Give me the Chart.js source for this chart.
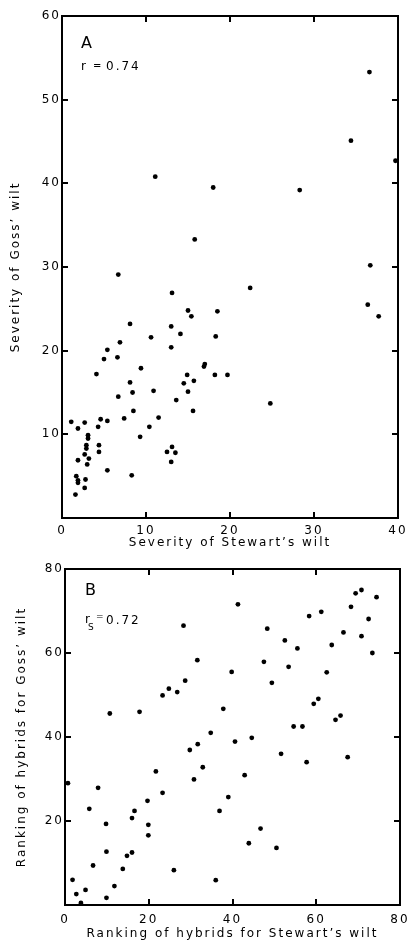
<!DOCTYPE html>
<html>
<head>
<meta charset="utf-8">
<script src="https://cdn.jsdelivr.net/npm/chart.js@4.4.1/dist/chart.umd.min.js"></script>
<style>
  html, body { margin: 0; padding: 0; background: #fff; }
  body { width: 410px; height: 952px; position: relative; overflow: hidden; }
  .panel { position: absolute; left: 0; }
</style>
</head>
<body>
<div class="panel" style="top:0"><canvas id="chartA" width="410" height="556"></canvas></div>
<div class="panel" style="top:550px"><canvas id="chartB" width="410" height="402"></canvas></div>
<script>
// Panel A: disease severity
const stewartSeverity = [11.1, 15.8, 18.0, 28.3, 34.4, 36.6, 39.7, 36.7, 6.7, 13.1,
    22.4, 36.4, 37.7, 15.0, 15.4, 18.5, 8.1, 13.0, 14.1, 10.6,
    18.3, 6.9, 5.4, 13.0, 5.0, 6.6, 4.1, 9.4, 17.0, 16.9,
    18.2, 19.7, 14.9, 8.1, 14.5, 15.7, 6.7, 8.4, 10.9, 15.0,
    13.6, 24.8, 8.5, 15.6, 11.5, 7.4, 4.6, 5.4, 1.1, 2.7,
    4.3, 1.9, 10.4, 3.1, 3.1, 9.3, 2.9, 2.9, 4.4, 4.4,
    2.7, 3.2, 12.5, 13.1, 13.5, 13.0, 1.9, 3.0, 5.4, 8.3,
    1.7, 1.9, 1.9, 2.8, 2.7, 1.6];
const gossSeverity = [40.8, 33.3, 39.5, 39.2, 45.1, 53.3, 42.7, 30.2, 29.1, 26.9,
    27.5, 25.5, 24.1, 24.8, 24.1, 24.7, 23.2, 22.9, 22.0, 21.6,
    21.7, 21.0, 20.1, 20.4, 19.0, 19.2, 17.2, 17.9, 18.4, 18.1,
    17.1, 17.1, 17.1, 16.2, 16.1, 16.4, 14.5, 15.0, 15.2, 15.1,
    14.1, 13.7, 12.8, 12.8, 12.0, 11.9, 11.8, 11.6, 11.5, 11.4,
    10.9, 10.7, 10.9, 9.9, 9.5, 9.7, 8.7, 8.3, 8.7, 7.9,
    7.6, 7.1, 7.9, 8.5, 7.8, 6.7, 6.9, 6.4, 5.7, 5.1,
    5.0, 4.5, 4.2, 4.6, 3.6, 2.8];

// Panel B: hybrid rankings
const stewartRank = [41.3, 70.8, 69.4, 74.4, 28.3, 61.2, 58.3, 72.5, 48.3, 68.3,
    52.5, 66.5, 70.8, 55.5, 63.7, 73.4, 31.6, 47.5, 53.4, 39.8,
    62.5, 28.7, 49.4, 26.8, 24.8, 23.3, 60.5, 59.4, 37.8, 10.7,
    17.8, 65.8, 64.6, 54.6, 56.7, 34.8, 40.6, 44.6, 31.7, 29.8,
    51.6, 67.5, 57.7, 32.9, 21.7, 42.9, 30.8, 0.7, 7.9, 23.3,
    39.0, 19.7, 16.6, 36.9, 5.8, 16.0, 9.8, 19.9, 19.9, 46.7,
    43.9, 50.5, 9.9, 14.8, 16.0, 6.7, 13.8, 26.0, 1.8, 36.0,
    11.8, 4.9, 2.7, 9.9, 3.8];
const gossRank = [71.6, 75.0, 74.2, 73.3, 66.5, 69.8, 68.8, 68.1, 65.8, 71.0,
    63.0, 64.9, 64.0, 61.1, 61.9, 60.0, 58.3, 57.9, 56.7, 55.5,
    55.4, 53.4, 52.9, 50.7, 51.5, 49.9, 49.1, 47.9, 46.7, 45.6,
    46.0, 45.1, 44.1, 42.5, 42.5, 41.0, 38.9, 39.8, 38.3, 36.9,
    36.0, 35.2, 34.0, 32.8, 31.8, 30.9, 29.9, 29.0, 27.9, 26.7,
    25.7, 24.8, 22.4, 22.4, 22.9, 20.7, 19.3, 19.1, 16.6, 18.2,
    14.7, 13.6, 12.7, 11.7, 12.5, 9.4, 8.6, 8.3, 6.0, 5.9,
    4.5, 3.6, 2.6, 1.7, 0.5];

const FONT = 'DejaVu Sans';
const SPACING = '2px';
const TICK = -6; // negative length: tick marks point into the plot

function toPoints(xs, ys) {
    return xs.map((v, i) => ({ x: v, y: ys[i] }));
}

/**
 * Letter spacing for the axis text, plus panel letter and correlation text
 */
const labelPlugin = {
    id: 'panelText',
    beforeLayout(chart) { chart.ctx.letterSpacing = SPACING; },
    beforeDraw(chart) { chart.ctx.letterSpacing = SPACING; },
    afterDraw(chart, args, opts) {
        const ctx = chart.ctx;
        ctx.save();
        ctx.fillStyle = '#000';
        ctx.textBaseline = 'alphabetic';
        ctx.textAlign = 'left';
        (opts.texts || []).forEach(t => {
            ctx.font = t.size + 'px "' + FONT + '"';
            ctx.fillText(t.text, t.x, t.y);
        });
        ctx.restore();
    }
};

// grid used only for the short inward tick marks, border for the frame
const frameGrid = { display: true, drawOnChartArea: false, drawTicks: true, tickLength: TICK, color: '#000', lineWidth: 2 };
const frameBorder = { display: true, color: '#000', width: 2 };

function makeChart(id, xs, ys, cfg) {
    const range = (r, step) => ({ type: 'linear', min: r[0], max: r[1], ticks: { stepSize: step } });
    return new Chart(document.getElementById(id), {
        type: 'scatter',
        data: {
            datasets: [{
                data: toPoints(xs, ys),
                xAxisID: 'x',
                yAxisID: 'y',
                backgroundColor: '#000',
                borderWidth: 0,
                pointRadius: 2.4,
                pointHoverRadius: 2.4
            }]
        },
        options: {
            responsive: false,
            animation: false,
            events: [],
            layout: { padding: 0 },
            plugins: {
                legend: { display: false },
                tooltip: { enabled: false },
                panelText: { texts: cfg.texts }
            },
            scales: {
                x: {
                    type: 'linear',
                    position: 'bottom',
                    min: cfg.xRange[0], max: cfg.xRange[1],
                    grid: frameGrid,
                    border: frameBorder,
                    ticks: {
                        stepSize: cfg.xStep,
                        color: '#000',
                        padding: cfg.xTickPad - TICK,
                        maxRotation: 0,
                        font: { family: FONT, size: 12 }
                    },
                    title: {
                        display: true,
                        text: cfg.xTitle,
                        color: '#000',
                        font: { family: FONT, size: 12 },
                        padding: { top: 0, bottom: cfg.xTitlePad }
                    },
                    afterFit(scale) {
                        scale.height = cfg.xHeight;
                        scale.paddingLeft = 0;
                        scale.paddingRight = 0;
                    }
                },
                y: {
                    type: 'linear',
                    position: 'left',
                    min: cfg.yRange[0], max: cfg.yRange[1],
                    grid: frameGrid,
                    border: frameBorder,
                    ticks: {
                        stepSize: cfg.yStep,
                        color: '#000',
                        padding: 1 - TICK,
                        font: { family: FONT, size: 12 },
                        callback: v => (v === 0 ? '' : v)
                    },
                    title: {
                        display: true,
                        text: cfg.yTitle,
                        color: '#000',
                        font: { family: FONT, size: 12 },
                        padding: { top: cfg.yTitlePad, bottom: 0 }
                    },
                    afterFit(scale) {
                        scale.width = cfg.yWidth;
                        scale.paddingTop = 0;
                        scale.paddingBottom = 0;
                    }
                },
                x2: {
                    ...range(cfg.xRange, cfg.xStep),
                    position: 'top',
                    grid: frameGrid,
                    border: frameBorder,
                    ticks: { stepSize: cfg.xStep, display: false },
                    afterFit(scale) {
                        scale.height = cfg.topGap;
                        scale.paddingLeft = 0;
                        scale.paddingRight = 0;
                    }
                },
                y2: {
                    ...range(cfg.yRange, cfg.yStep),
                    position: 'right',
                    grid: frameGrid,
                    border: frameBorder,
                    ticks: { stepSize: cfg.yStep, display: false },
                    afterFit(scale) {
                        scale.width = cfg.rightGap;
                        scale.paddingTop = 0;
                        scale.paddingBottom = 0;
                    }
                }
            }
        },
        plugins: [labelPlugin]
    });
}

makeChart('chartA', stewartSeverity, gossSeverity, {
    xRange: [0, 40], yRange: [0, 60], xStep: 10, yStep: 10,
    xTitle: 'Severity of Stewart\u2019s wilt',
    yTitle: 'Severity of Goss\u2019 wilt',
    xHeight: 38, yWidth: 62, topGap: 16, rightGap: 12,
    xTickPad: 5.5, xTitlePad: 5.5, yTitlePad: 9,
    texts: [
        { text: 'A', size: 16, x: 81, y: 48 },
        { text: 'r', size: 12, x: 81, y: 70 },
        { text: '=', size: 10, x: 93, y: 69 },
        { text: '0.74', size: 12, x: 106, y: 70 }
    ]
});

makeChart('chartB', stewartRank, gossRank, {
    xRange: [0, 80], yRange: [0, 80], xStep: 20, yStep: 20,
    xTitle: 'Ranking of hybrids for Stewart\u2019s wilt',
    yTitle: 'Ranking of hybrids for Goss\u2019 wilt',
    xHeight: 47, yWidth: 65, topGap: 19, rightGap: 10,
    xTickPad: 7.5, xTitlePad: 10.5, yTitlePad: 15,
    texts: [
        { text: 'B', size: 16, x: 85, y: 45 },
        { text: 'r', size: 12, x: 85, y: 73 },
        { text: 'S', size: 9, x: 88, y: 80 },
        { text: '=', size: 9, x: 96, y: 69 },
        { text: '0.72', size: 12, x: 106, y: 74 }
    ]
});
</script>
</body>
</html>
